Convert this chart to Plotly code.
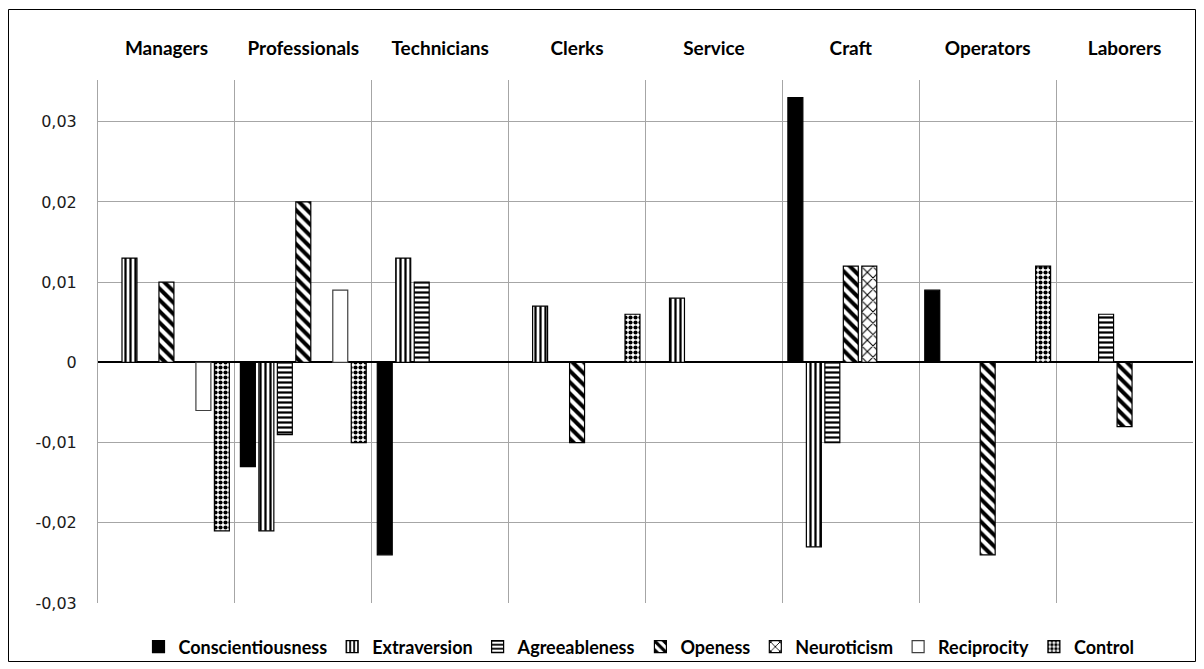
import plotly.graph_objects as go

categories = ["Managers", "Professionals", "Technicians", "Clerks", "Service", "Craft", "Operators", "Laborers"]

conscientiousness = [None, -0.013, -0.024, None, None, 0.033, 0.009, None]
extraversion      = [0.013, -0.021, 0.013, 0.007, 0.008, -0.023, None, None]
agreeableness     = [None, -0.009, 0.010, None, None, -0.010, None, 0.006]
openess           = [0.010, 0.020, None, -0.010, None, 0.012, -0.024, -0.008]
neuroticism       = [None, None, None, None, None, 0.012, None, None]
reciprocity       = [-0.006, 0.009, None, None, None, None, None, None]
control           = [-0.021, -0.010, None, 0.006, None, None, 0.012, None]

series_names = ["Conscientiousness", "Extraversion", "Agreeableness", "Openess",
                "Neuroticism", "Reciprocity", "Control"]
series_values = [conscientiousness, extraversion, agreeableness, openess,
                 neuroticism, reciprocity, control]

y_ticks = [-0.03, -0.02, -0.01, 0, 0.01, 0.02, 0.03]
y_tick_labels = ["-0,03", "-0,02", "-0,01", "0", "0,01", "0,02", "0,03"]

def pat(shape, size, solidity):
    return dict(shape=shape, size=size, solidity=solidity, fgcolor="black",
                bgcolor="white", fillmode="overlay", fgopacity=1)

styles = {
    "Conscientiousness": dict(color="black", pattern=None, line="black"),
    "Extraversion": dict(color="white", pattern=pat("|", 5, 0.45), line="black"),
    "Agreeableness": dict(color="white", pattern=pat("-", 5, 0.45), line="black"),
    "Openess": dict(color="white", pattern=pat("\\", 8, 0.5), line="black"),
    "Neuroticism": dict(color="white", pattern=pat("x", 8, 0.25), line="black"),
    "Reciprocity": dict(color="white", pattern=None, line="#404040"),
    "Control": dict(color="white", pattern=pat(".", 5, 0.55), line="black"),
}

fig = go.Figure()
for name, vals in zip(series_names, series_values):
    st = styles[name]
    marker = dict(color=st["color"], line=dict(color=st["line"], width=1.2))
    if st["pattern"] is not None:
        marker["pattern"] = st["pattern"]
    fig.add_trace(go.Bar(name=name, x=categories, y=vals, marker=marker))

# page has an 8px body margin; figure is placed at (8, 8)
OFF = 8
W, H = 1196, 661
L, R, T, B = 90, 11, 72, 66
pw, ph = W - L - R, H - T - B

def px_x(p):
    return (p - OFF - L) / pw

def px_y(p):
    return (H - B - (p - OFF)) / ph

fig.update_layout(
    width=W, height=H,
    margin=dict(l=L, r=R, t=T, b=B, autoexpand=False),
    paper_bgcolor="white", plot_bgcolor="white",
    barmode="group", bargap=0.055, bargroupgap=0.19,
    showlegend=True,
    legend=dict(orientation="h", x=px_x(639), xanchor="center", y=px_y(647), yanchor="middle",
                font=dict(family="Lato", size=18, color="black", weight="bold"),
                bgcolor="rgba(0,0,0,0)",
                itemwidth=30, traceorder="normal"),
    xaxis=dict(side="top", type="category", tickson="boundaries", showgrid=True,
               gridcolor="#A6A6A6", gridwidth=1, ticks="", ticklabelstandoff=20,
               automargin=False,
               tickfont=dict(family="Lato", size=19, color="black", weight="bold"),
               showline=False, zeroline=False),
    yaxis=dict(range=[-0.03, 0.0352], tickvals=y_ticks, ticktext=y_tick_labels,
               showgrid=True, gridcolor="#A6A6A6", gridwidth=1,
               zeroline=True, zerolinecolor="black", zerolinewidth=2,
               showline=True, linecolor="#A6A6A6", linewidth=1,
               ticks="", ticklabelstandoff=17, automargin=False,
               tickfont=dict(family="DejaVu Sans", size=16, color="#1a1a1a")),
    shapes=[dict(type="rect", xref="paper", yref="paper",
                 x0=px_x(8.5), x1=px_x(1195.5), y0=px_y(661.5), y1=px_y(9.5),
                 line=dict(color="black", width=1), fillcolor="rgba(0,0,0,0)", layer="below")],
)

fig.write_html("out.html")
